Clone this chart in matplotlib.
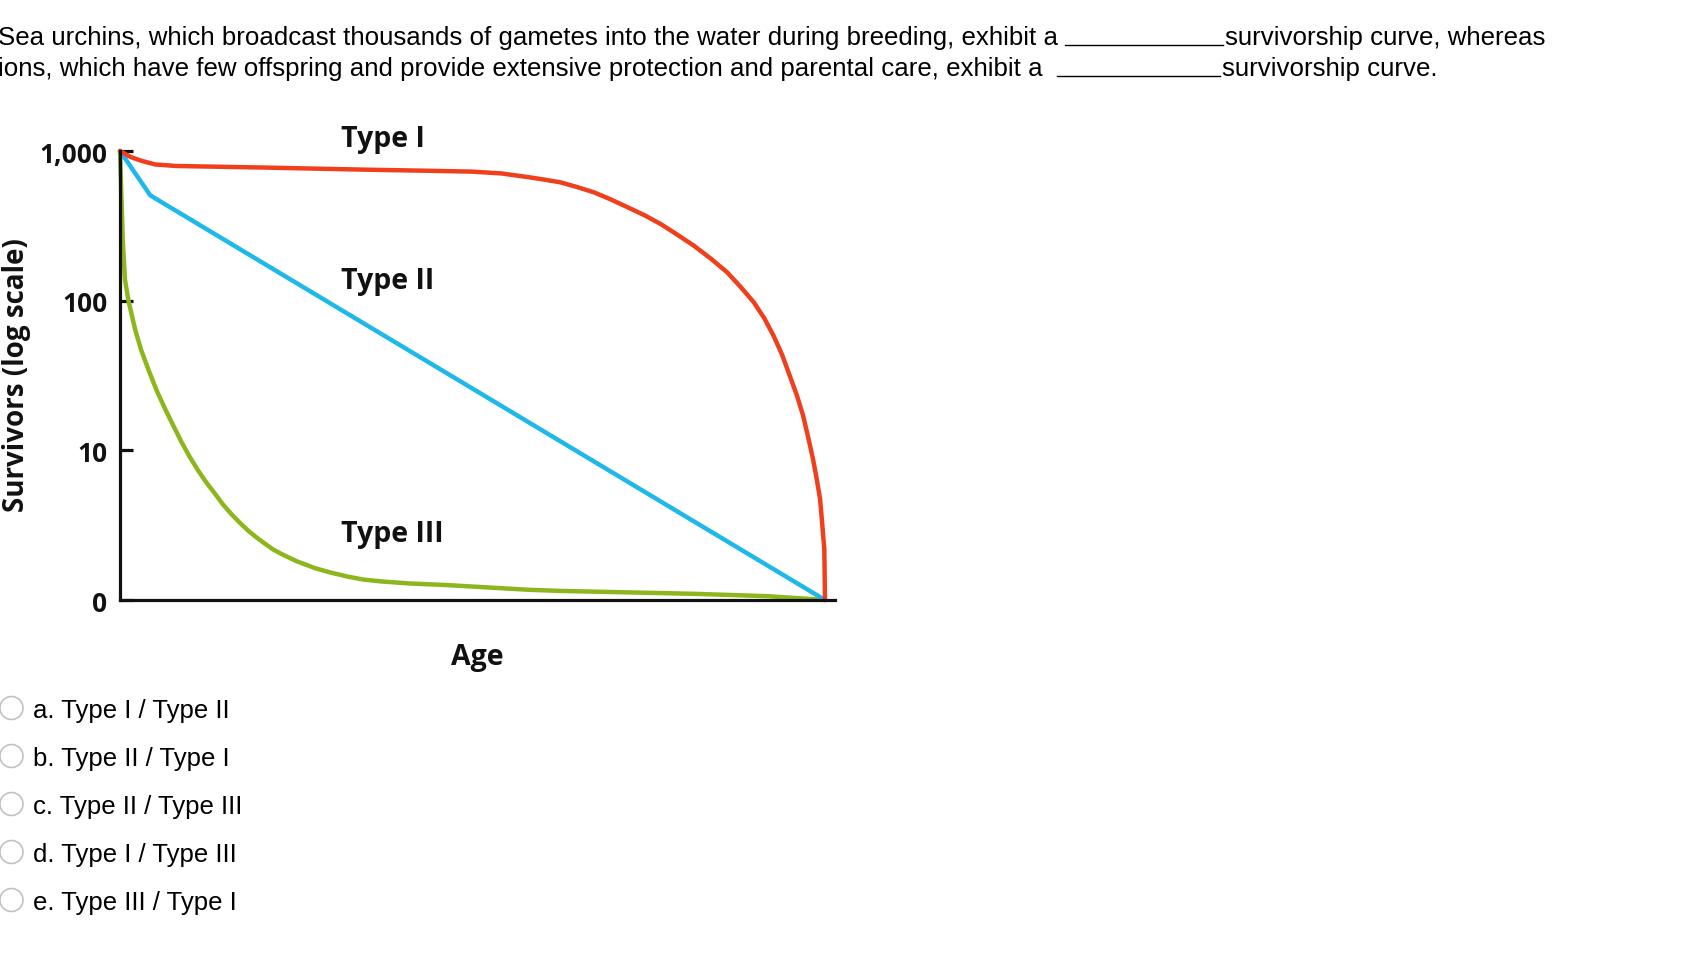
import numpy as np
import matplotlib.pyplot as plt
from matplotlib.patches import Circle
from matplotlib.lines import Line2D

# survivorship curves (age as fraction of max lifespan, survivors on log scale)
age_type1 = [0, 0.015, 0.03, 0.05, 0.08, 0.2, 0.35, 0.45, 0.5, 0.541, 0.58, 0.60, 0.625, 0.648,
             0.672, 0.696, 0.720, 0.744, 0.767, 0.79, 0.814, 0.838, 0.861, 0.88, 0.899, 0.914,
             0.927, 0.939, 0.950, 0.960, 0.969, 0.976, 0.983, 0.988, 0.993, 0.996, 0.999, 1.0]
surv_type1 = [1000, 912, 861, 813, 794, 776, 750, 736, 728, 708, 668, 646, 617, 575,
              530, 475, 421, 372, 325, 277, 233, 191, 155, 124, 97.5, 76.2,
              58.3, 43.7, 31.5, 23.4, 17.0, 12.3, 8.75, 6.53, 4.73, 3.24, 2.19, 1.0]

age_type2 = [0, 0.043, 1.0]
surv_type2 = [1000, 505, 1.0]

age_type3 = [0, 0.002, 0.004, 0.007, 0.0118, 0.0213, 0.030, 0.040, 0.052, 0.064, 0.076, 0.0875,
             0.099, 0.111, 0.123, 0.135, 0.146, 0.158, 0.17, 0.182, 0.194, 0.206, 0.217, 0.229,
             0.25, 0.277, 0.30, 0.324, 0.345, 0.371, 0.41, 0.461, 0.58, 0.625, 0.70, 0.814, 0.92, 1.0]
surv_type3 = [1000, 501, 251, 139, 101, 64.6, 46.8, 34.9, 25.1, 18.9, 14.5, 11.3,
              9.02, 7.31, 6.05, 5.11, 4.35, 3.75, 3.28, 2.90, 2.61, 2.37, 2.18, 2.03,
              1.82, 1.63, 1.52, 1.43, 1.37, 1.33, 1.29, 1.26, 1.17, 1.15, 1.13, 1.10, 1.06, 1.0]

yticks = [1, 10, 100, 1000]
ytick_labels = ["0", "10", "100", "1,000"]
curve_labels = ["Type I", "Type II", "Type III"]

question = [
    ("Sea urchins, which broadcast thousands of gametes into the water during breeding, exhibit a",
     "survivorship curve, whereas"),
    ("ions, which have few offspring and provide extensive protection and parental care, exhibit a",
     "survivorship curve."),
]
options = ["a. Type I / Type II", "b. Type II / Type I", "c. Type II / Type III",
           "d. Type I / Type III", "e. Type III / Type I"]

W, H = 1708, 962
plt.rcParams['font.family'] = ['Open Sans', 'DejaVu Sans']
fig = plt.figure(figsize=(W / 100, H / 100), dpi=100)


def fx(px):
    return px / W


def fy(py):
    return 1 - py / H


# axes: x data 0..1 spans px 120..825, y 1..1000 spans px 601..152
ax = fig.add_axes([fx(120), fy(601), (835 - 120) / W, (601 - 152) / H])
ax.set_yscale('log')
ax.set_xlim(0, 715 / 705)
ax.set_ylim(1, 1000)

ax.plot(age_type3, surv_type3, color='#8cb61c', lw=3.2, clip_on=False, solid_capstyle='round',
        solid_joinstyle='round')
ax.plot(age_type2, surv_type2, color='#1fb8ea', lw=3.2, clip_on=False, solid_capstyle='round')
ax.plot(age_type1, surv_type1, color='#f03f1c', lw=3.2, clip_on=False, solid_capstyle='round',
        solid_joinstyle='round')

for s in ['top', 'right']:
    ax.spines[s].set_visible(False)
for s in ['left', 'bottom']:
    ax.spines[s].set_linewidth(2.3)
    ax.spines[s].set_color('#111111')

ax.set_xticks([])
ax.set_yticks(yticks)
ax.set_yticklabels(ytick_labels)
ax.yaxis.set_minor_locator(plt.NullLocator())
ax.tick_params(axis='y', direction='in', length=9.5, width=2.3, pad=9,
               labelsize=19, colors='#111111')
for lab in ax.get_yticklabels():
    lab.set_fontweight('bold')

fig.text(fx(17), fy(375), "Survivors (log scale)", rotation=90, fontsize=20, fontweight='bold',
         ha='center', va='center', color='#111111')

# curve labels
fig.text(fx(341), fy(139), curve_labels[0], fontsize=20.5, fontweight='bold', va='center', color='#111111')
fig.text(fx(341), fy(282), curve_labels[1], fontsize=20.5, fontweight='bold', va='center', color='#111111')
fig.text(fx(341), fy(535), curve_labels[2], fontsize=20.5, fontweight='bold', va='center', color='#111111')
fig.text(fx(477), fy(657), "Age", fontsize=20.5, fontweight='bold', ha='center', va='center', color='#111111')

# question text with blanks
baselines = [45, 76]
blank_spans = [(1065, 1223), (1057, 1220)]
for (left, right), base, (b0, b1) in zip(question, baselines, blank_spans):
    fig.text(fx(-2), fy(base), left, fontsize=18.6, family='Liberation Sans', va='baseline')
    fig.add_artist(Line2D([fx(b0), fx(b1)], [fy(base + 1), fy(base + 1)], color='black', lw=1))
    fig.text(fx(b1 + 2), fy(base), right, fontsize=18.6, family='Liberation Sans', va='baseline')

# answer options
for i, opt in enumerate(options):
    cy = 709 + 48 * i
    fig.add_artist(Circle((11.5 / 100, (H - cy) / 100), 0.115, transform=fig.dpi_scale_trans,
                          facecolor='white', edgecolor='#c2c2c2', lw=1.2))
    fig.text(fx(33), fy(cy + 9), opt, fontsize=18.5, family='Liberation Sans', va='baseline')

fig.savefig("out.png", dpi=100)
